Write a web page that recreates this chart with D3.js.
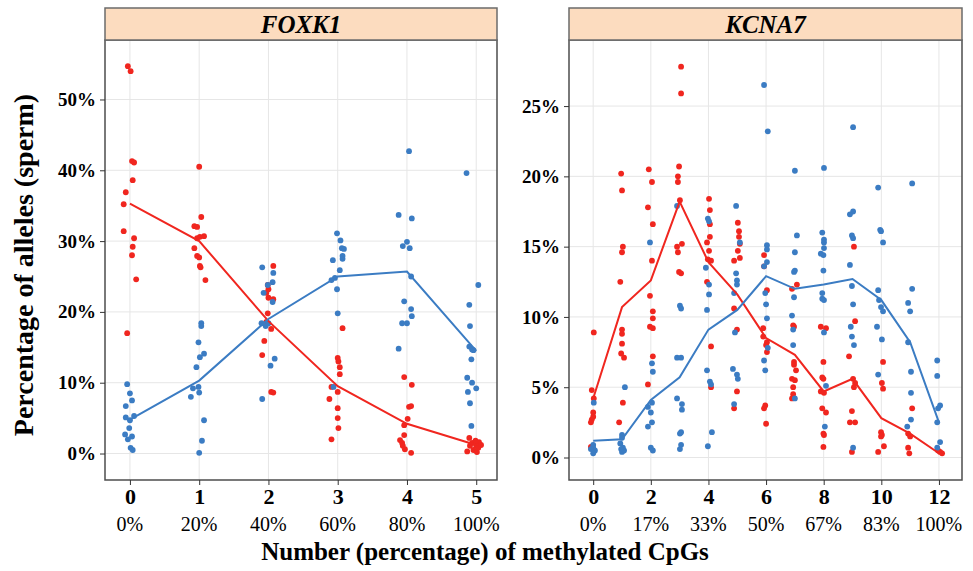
<!DOCTYPE html>
<html>
<head>
<meta charset="utf-8">
<script src="https://cdn.jsdelivr.net/npm/d3@7"></script>
<style>
  body { margin: 0; background: #fff; }
  svg { font-family: "Liberation Serif", "Times New Roman", serif; }
</style>
</head>
<body>
<svg id="chart" width="973" height="571"></svg>
<script>
// FOXK1: x = number of methylated CpGs (jitter included), y = % of alleles
var foxkRed = [
  [-0.03,54.7],[0.01,54.0],[0.03,41.3],[0.06,41.1],[0.04,38.6],[-0.06,36.9],[-0.09,35.2],
  [-0.09,31.4],[0.06,30.4],[0.04,29.2],[0.03,28.0],[0.09,24.6],[-0.04,17.0],
  [1.0,40.5],[1.03,33.4],[0.93,32.1],[0.97,32.0],[1.01,30.6],[1.07,30.7],[0.97,30.4],
  [0.93,29.0],[0.97,27.9],[1.0,27.7],[1.01,26.5],[1.02,26.3],[1.09,24.5],
  [2.07,26.5],[1.99,23.8],[2.0,23.2],[1.97,22.7],[2.0,22.0],[2.07,21.8],[1.99,19.8],
  [1.97,18.6],[2.04,17.6],[1.94,15.9],[1.91,13.9],[2.04,8.7],[2.07,8.6],
  [3.07,17.7],[3.0,13.5],[3.01,13.0],[3.03,12.2],[3.03,11.2],[2.91,9.4],[3.0,8.7],
  [2.88,7.7],[3.0,6.4],[3.0,5.0],[3.01,3.6],[2.91,2.0],
  [3.96,10.8],[4.07,9.7],[4.03,6.6],[4.06,6.7],[4.01,4.9],[3.96,4.0],[3.96,2.6],
  [3.9,1.9],[3.93,1.5],[3.94,1.1],[3.97,0.6],[4.06,0.1],
  [4.9,2.2],[4.94,1.5],[5.04,1.6],[5.0,1.1],[4.91,1.1],[4.87,0.3],[4.96,0.5],
  [5.01,0.2],[5.03,0.8],[4.99,1.8],[5.07,1.2]
];
var foxkBlue = [
  [-0.04,9.8],[0.0,8.5],[0.03,7.5],[-0.06,6.7],[-0.06,5.1],[0.06,5.3],[0.0,4.7],
  [-0.01,3.6],[-0.07,2.7],[0.03,2.4],[-0.03,2.0],[0.01,0.8],[0.04,0.5],
  [1.03,18.4],[1.03,18.0],[0.99,15.7],[1.01,13.6],[1.07,14.1],[0.96,12.2],[0.91,9.2],
  [0.99,9.4],[1.0,8.6],[0.88,8.0],[1.07,4.7],[1.04,1.8],[1.0,0.1],
  [1.91,26.3],[2.07,25.5],[2.06,24.2],[1.99,23.8],[1.93,22.7],[2.06,21.4],[1.9,18.4],
  [2.0,18.4],[1.96,18.0],[2.09,13.4],[2.03,12.4],[1.91,7.7],
  [2.99,31.1],[3.04,30.1],[3.06,29.0],[3.09,28.9],[3.07,27.9],[3.07,27.5],[2.93,27.3],
  [3.03,25.9],[2.96,24.8],[2.91,24.5],[2.99,23.2],[3.0,19.8],[2.94,9.4],
  [4.03,42.7],[3.88,33.7],[4.07,33.2],[4.0,29.9],[3.94,29.3],[4.04,29.0],[4.06,25.0],
  [3.96,21.5],[4.06,20.4],[4.07,19.4],[3.93,18.4],[4.0,18.4],[3.88,14.8],
  [4.86,39.6],[5.03,23.8],[4.9,21.0],[4.91,18.0],[4.9,15.1],[4.94,14.7],[4.96,14.6],
  [4.93,13.3],[4.87,10.7],[4.94,10.0],[5.0,9.2],[4.88,8.7],[4.91,7.1],[4.93,3.9]
];
var foxkRedLine = [35.3, 30.0, 18.7, 9.5, 4.2, 1.2];
var foxkBlueLine = [4.8, 10.3, 19.0, 25.0, 25.7, 14.5];
var foxkTicks = [0, 1, 2, 3, 4, 5];
var foxkTickPct = ["0%", "20%", "40%", "60%", "80%", "100%"];
var foxkYTicks = [0, 10, 20, 30, 40, 50];

// KCNA7
var kcnaRed = [
  [0.02,8.9],[-0.05,4.8],[0.02,4.2],[0.0,3.2],[0.0,2.9],[-0.05,2.7],[-0.08,2.5],[-0.08,0.75],
  [0.97,20.2],[1.0,19.0],[1.03,15.0],[1.0,14.6],[0.94,12.5],[1.0,9.1],[1.0,8.8],[1.0,8.1],
  [0.97,7.4],[1.07,7.1],[1.03,3.9],[0.9,2.5],
  [1.93,20.5],[2.04,19.6],[1.9,17.8],[2.07,16.6],[2.04,14.0],[1.97,11.5],[2.07,10.4],
  [2.07,9.9],[1.97,9.3],[2.07,9.2],[2.07,7.2],[1.9,5.2],
  [3.05,27.8],[3.05,25.9],[2.98,20.7],[2.94,20.0],[2.94,19.6],[3.01,18.3],[2.91,15.0],
  [3.08,15.2],[2.94,14.6],[2.98,13.2],[3.05,13.1],
  [4.02,18.4],[4.05,17.6],[4.05,16.6],[4.05,15.7],[3.95,15.3],[4.02,14.7],[3.98,14.1],
  [4.09,14.0],[3.95,12.5],[4.09,7.9],[4.09,5.0],
  [5.02,16.7],[5.06,16.1],[5.06,15.7],[5.09,15.2],[5.02,14.7],[5.09,14.2],[4.89,14.0],
  [4.89,10.6],[4.99,9.1],[4.99,4.7],[4.89,3.5],
  [5.93,14.4],[5.93,13.6],[6.03,11.9],[5.9,9.2],[5.9,8.6],[6.03,8.2],[6.0,8.0],[6.03,7.5],
  [5.97,3.7],[5.93,3.5],[6.0,2.4],
  [7.07,12.3],[6.9,12.0],[6.94,9.4],[6.97,9.3],[6.97,6.8],[6.97,6.6],[7.04,6.2],[6.9,5.6],
  [7.0,5.5],[6.94,5.0],[6.94,4.5],[6.9,4.2],
  [7.9,9.3],[8.08,9.2],[7.99,6.8],[7.95,5.7],[7.99,5.6],[7.9,4.7],[8.01,4.6],[7.95,3.5],
  [8.08,3.2],[7.99,1.7],[8.01,1.6],[7.99,0.75],
  [9.05,15.0],[9.09,9.7],[8.88,7.2],[9.02,5.6],[9.09,5.3],[9.05,5.0],[8.98,3.3],[8.91,2.5],
  [9.09,2.5],[8.98,0.4],
  [10.06,6.8],[10.02,5.3],[10.06,4.9],[9.99,1.8],[10.02,1.6],[9.99,1.5],[10.09,0.8],[9.89,0.4],
  [11.07,3.5],[10.93,1.7],[11.0,1.5],[10.93,0.7],[10.97,0.3],
  [12.04,0.4],[12.11,0.3],[11.97,0.5]
];
var kcnaBlue = [
  [0.02,3.9],[0.0,0.9],[0.0,0.7],[0.06,0.5],[0.0,0.3],[-0.08,0.6],
  [1.1,5.0],[1.0,1.6],[1.0,1.4],[0.94,1.0],[1.03,0.7],[1.0,0.4],[1.07,0.5],[0.97,0.6],
  [1.97,15.3],[2.04,6.7],[2.07,6.1],[2.04,3.9],[1.9,3.6],[2.0,3.2],[2.04,2.5],[1.9,2.2],
  [2.0,0.7],[2.07,0.5],
  [2.91,17.9],[3.01,10.8],[3.05,10.6],[2.91,7.1],[3.05,7.1],[2.91,4.2],[3.08,3.8],[3.08,3.4],
  [3.05,1.8],[3.01,1.7],[3.05,0.9],[3.01,0.6],
  [3.98,17.0],[4.02,16.8],[3.91,13.5],[4.02,12.3],[4.02,11.6],[3.95,10.5],[3.95,6.2],
  [4.05,5.4],[4.09,5.2],[4.12,1.8],[3.98,0.8],
  [4.96,17.9],[5.09,15.3],[4.96,13.1],[4.99,12.6],[4.99,12.3],[4.89,11.7],[4.92,8.9],
  [4.85,6.3],[4.99,5.9],[5.02,5.6],[4.89,3.8],
  [5.93,26.5],[6.06,23.2],[6.03,15.1],[6.03,14.8],[6.03,13.9],[5.93,13.6],[5.97,11.7],
  [6.0,10.9],[6.03,9.9],[6.06,7.8],[5.93,6.9],[5.97,6.2],
  [7.0,20.4],[7.07,15.8],[7.0,14.6],[7.0,13.3],[6.97,13.2],[6.97,11.4],[6.9,10.1],
  [6.94,9.1],[6.94,8.0],[7.0,4.2],
  [8.01,20.6],[7.95,16.0],[8.01,15.5],[8.01,15.3],[8.01,14.9],[7.9,14.5],[7.99,14.4],
  [7.99,13.3],[7.95,11.7],[7.95,11.3],[8.01,11.2],[8.01,8.9],[8.08,5.1],[8.04,2.2],
  [9.02,23.5],[9.02,17.5],[8.91,17.3],[8.98,15.8],[9.02,15.6],[8.91,13.7],[8.98,12.2],
  [9.02,10.9],[8.94,9.3],[8.98,8.6],[9.05,8.0],[9.02,0.7],
  [9.89,19.2],[9.96,16.2],[9.99,16.1],[10.06,15.3],[9.89,11.9],[9.92,11.2],[9.99,10.7],
  [10.06,10.4],[9.85,9.3],[10.02,8.4],[9.89,5.9],
  [11.07,19.5],[11.07,12.0],[10.93,11.0],[11.0,10.4],[10.93,8.2],[11.03,6.1],[11.03,4.6],
  [11.03,2.7],[10.9,2.2],
  [11.94,6.9],[11.94,5.8],[12.04,3.7],[11.97,3.5],[11.94,2.5],[12.04,1.1],[11.94,0.7]
];
var kcnaRedLine = [4.2, 10.7, 12.6, 18.2, 13.9, 11.6, 8.5, 7.3, 4.7, 5.6, 2.8, 1.7, 0.3];
var kcnaBlueLine = [1.2, 1.3, 4.1, 5.7, 9.1, 10.5, 12.9, 12.0, 12.3, 12.7, 11.2, 8.2, 2.5];
var kcnaTicks = [0, 2, 4, 6, 8, 10, 12];
var kcnaTickPct = ["0%", "17%", "33%", "50%", "67%", "83%", "100%"];
var kcnaYTicks = [0, 5, 10, 15, 20, 25];

var red = "#f0261f", blue = "#3b7cc3";

var svg = d3.select("#chart");

function drawPanel(opt) {
  var x = d3.scaleLinear().domain(opt.xDomain).range([opt.left, opt.right]);
  var y = d3.scaleLinear().domain(opt.yDomain).range([480, 40]);
  var g = svg.append("g");

  // grid
  g.selectAll(".gy").data(opt.yTicks).enter().append("line")
    .attr("x1", opt.left).attr("x2", opt.right)
    .attr("y1", function(d) { return y(d); }).attr("y2", function(d) { return y(d); })
    .attr("stroke", "#e6e6e6").attr("stroke-width", 1);
  g.selectAll(".gx").data(opt.xTicks).enter().append("line")
    .attr("y1", 40).attr("y2", 480)
    .attr("x1", function(d) { return x(d); }).attr("x2", function(d) { return x(d); })
    .attr("stroke", "#e6e6e6").attr("stroke-width", 1);

  // points
  function dots(data, color) {
    g.selectAll(null).data(data).enter().append("circle")
      .attr("cx", function(d) { return x(d[0]); })
      .attr("cy", function(d) { return y(d[1]); })
      .attr("r", 2.9)
      .attr("fill", color);
  }
  dots(opt.red, red);
  dots(opt.blue, blue);

  // mean lines
  var line = d3.line()
    .x(function(d, i) { return x(i); })
    .y(function(d) { return y(d); });
  g.append("path").datum(opt.redLine).attr("d", line)
    .attr("fill", "none").attr("stroke", red).attr("stroke-width", 2);
  g.append("path").datum(opt.blueLine).attr("d", line)
    .attr("fill", "none").attr("stroke", blue).attr("stroke-width", 2);

  // border
  g.append("rect").attr("x", opt.left).attr("y", 40)
    .attr("width", opt.right - opt.left).attr("height", 440)
    .attr("fill", "none").attr("stroke", "#4d4d4d").attr("stroke-width", 1.5);

  // strip
  g.append("rect").attr("x", opt.left).attr("y", 8)
    .attr("width", opt.right - opt.left).attr("height", 32)
    .attr("fill", "#fcdcbf").attr("stroke", "#6b6b6b").attr("stroke-width", 1.5);
  g.append("text").attr("x", (opt.left + opt.right) / 2).attr("y", 33)
    .attr("text-anchor", "middle")
    .style("font-weight", "bold").style("font-style", "italic").style("font-size", "25px")
    .text(opt.title);

  // y axis
  var yAxis = g.append("g").attr("transform", "translate(" + opt.left + ",0)")
    .call(d3.axisLeft(y).tickValues(opt.yTicks).tickSize(5).tickPadding(4)
      .tickFormat(function(d) { return d + "%"; }));
  yAxis.select(".domain").remove();
  yAxis.selectAll("line").attr("stroke", "#333");
  yAxis.selectAll("text").style("font-family", "Liberation Serif")
    .style("font-size", "19px").style("font-weight", "bold").attr("fill", "#000");

  // x axis
  var xAxis = g.append("g").attr("transform", "translate(0,480)")
    .call(d3.axisBottom(x).tickValues(opt.xTicks).tickSize(5).tickPadding(3)
      .tickFormat(d3.format("d")));
  xAxis.select(".domain").remove();
  xAxis.selectAll("line").attr("stroke", "#333");
  xAxis.selectAll("text").style("font-family", "Liberation Serif")
    .style("font-size", "22px").style("font-weight", "bold").attr("fill", "#000");
  g.selectAll(".pct").data(opt.xTicks).enter().append("text")
    .attr("x", function(d) { return x(d); }).attr("y", 531)
    .attr("text-anchor", "middle").style("font-size", "20px")
    .text(function(d, i) { return opt.pct[i]; });
}

drawPanel({
  title: "FOXK1", left: 105, right: 497,
  xDomain: [-0.36, 5.3], yDomain: [-3.74, 58.4],
  xTicks: foxkTicks, pct: foxkTickPct, yTicks: foxkYTicks,
  red: foxkRed, blue: foxkBlue, redLine: foxkRedLine, blueLine: foxkBlueLine
});
drawPanel({
  title: "KCNA7", left: 569, right: 962,
  xDomain: [-0.84, 12.8], yDomain: [-1.6, 29.7],
  xTicks: kcnaTicks, pct: kcnaTickPct, yTicks: kcnaYTicks,
  red: kcnaRed, blue: kcnaBlue, redLine: kcnaRedLine, blueLine: kcnaBlueLine
});

svg.append("text").attr("x", 485).attr("y", 560).attr("text-anchor", "middle")
  .style("font-weight", "bold").style("font-size", "25px")
  .text("Number (percentage) of methylated CpGs");
svg.append("text").attr("transform", "translate(33,265) rotate(-90)")
  .attr("text-anchor", "middle")
  .style("font-weight", "bold").style("font-size", "28px")
  .text("Percentage of alleles (sperm)");
</script>
</body>
</html>
